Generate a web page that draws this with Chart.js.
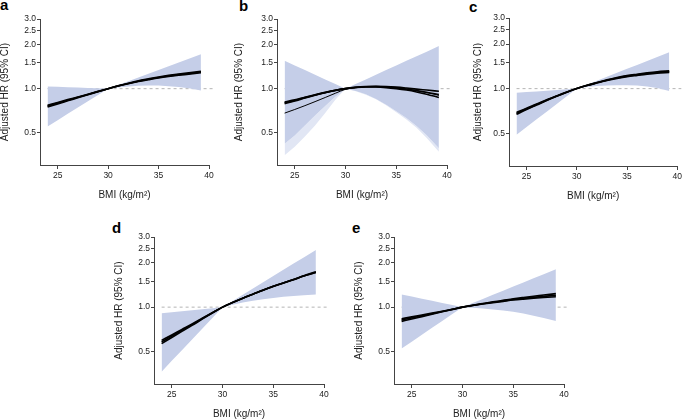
<!DOCTYPE html>
<html><head><meta charset="utf-8">
<script src="https://cdn.jsdelivr.net/npm/chart.js@4"></script>
<style>
body{margin:0;width:684px;height:420px;background:#fff;position:relative;overflow:hidden;font-family:"Liberation Sans",Arial,Helvetica,sans-serif}
canvas{position:absolute}
.lab{position:absolute;font-weight:bold;font-size:15px;line-height:15px;color:#000;font-family:"Liberation Sans",Arial,Helvetica,sans-serif}
</style></head><body>
<script>
// ---- data ----
const bmi = [24,25,26,27,28,29,30,31,32,33,34,35,36,37,38,39.2];
const xTicks = [25,30,35,40];
const yTicks = [0.5,1.0,1.5,2.0,2.5,3.0];
const refFrom = 24, refTo = 40.4, refHR = 1.0;

const aUpper = [1.035,1.029,1.023,1.017,1.011,1.006,1.0,1.061,1.125,1.193,1.265,1.342,1.423,1.509,1.60,1.72];
const aLower = [0.551,0.608,0.672,0.742,0.820,0.906,1.0,1.02,1.035,1.045,1.05,1.05,1.04,1.025,1.005,0.97];
const aLine1 = [0.76,0.796,0.833,0.872,0.913,0.955,1.0,1.045,1.086,1.125,1.159,1.193,1.222,1.247,1.27,1.30];
const aLine2 = [0.748,0.786,0.825,0.866,0.909,0.953,1.0,1.047,1.09,1.131,1.167,1.203,1.233,1.26,1.284,1.315];
const aLine3 = [0.77,0.805,0.841,0.878,0.917,0.958,1.0,1.043,1.082,1.119,1.152,1.184,1.211,1.235,1.257,1.285];

const bUpper = [1.55,1.44,1.34,1.245,1.157,1.076,1.0,1.076,1.157,1.245,1.34,1.44,1.55,1.67,1.79,1.96];
const bLower = [0.42,0.478,0.56,0.655,0.76,0.88,1.0,0.965,0.915,0.85,0.775,0.70,0.63,0.555,0.48,0.39];
const bFringe = [0.35,0.40,0.47,0.56,0.68,0.84,1.0,0.96,0.91,0.845,0.77,0.69,0.615,0.54,0.46,0.37];
const bLine1 = [0.80,0.83,0.868,0.905,0.94,0.973,1.0,1.02,1.031,1.033,1.027,1.013,0.995,0.972,0.946,0.91];
const bLine2 = [0.79,0.823,0.862,0.90,0.937,0.971,1.0,1.022,1.034,1.038,1.035,1.025,1.01,0.993,0.978,0.96];
const bLine3 = [0.81,0.838,0.873,0.908,0.943,0.975,1.0,1.018,1.027,1.026,1.017,1.0,0.978,0.95,0.917,0.87];
const bLine4 = [0.68,0.72,0.765,0.815,0.87,0.93,0.99,1.015,1.03,1.032,1.025,1.01,0.99,0.965,0.94,0.90];

const cUpper = [0.937,0.947,0.957,0.968,0.979,0.989,1.0,1.063,1.131,1.203,1.279,1.36,1.446,1.537,1.635,1.76];
const cLower = [0.488,0.55,0.62,0.698,0.787,0.887,1.0,1.025,1.04,1.05,1.055,1.055,1.05,1.035,1.01,0.965];
const cLine1 = [0.68,0.73,0.78,0.835,0.89,0.945,1.0,1.05,1.095,1.14,1.18,1.215,1.24,1.265,1.285,1.30];
const cLine2 = [0.67,0.722,0.774,0.83,0.887,0.944,1.0,1.052,1.099,1.146,1.188,1.225,1.252,1.278,1.30,1.318];
const cLine3 = [0.69,0.738,0.786,0.84,0.893,0.947,1.0,1.048,1.091,1.134,1.172,1.205,1.229,1.252,1.271,1.285];

const dUpper = [0.909,0.924,0.938,0.953,0.969,0.984,1.0,1.102,1.215,1.339,1.476,1.627,1.794,1.977,2.18,2.45];
const dLower = [0.364,0.431,0.509,0.603,0.714,0.845,1.0,1.04,1.075,1.105,1.13,1.155,1.175,1.19,1.205,1.22];
const dLine1 = [0.58,0.635,0.695,0.76,0.835,0.915,1.0,1.075,1.15,1.225,1.305,1.385,1.46,1.54,1.63,1.73];
const dLine2 = [0.594,0.647,0.705,0.768,0.84,0.918,1.0,1.076,1.151,1.226,1.306,1.386,1.462,1.543,1.634,1.74];
const dLine3 = [0.565,0.622,0.684,0.751,0.828,0.911,1.0,1.074,1.149,1.224,1.304,1.384,1.458,1.537,1.626,1.72];

const eUpper = [1.22,1.18,1.142,1.105,1.069,1.034,1.0,1.067,1.138,1.214,1.295,1.381,1.473,1.571,1.676,1.81];
const eLower = [0.523,0.582,0.649,0.723,0.806,0.898,1.0,0.99,0.98,0.965,0.95,0.93,0.905,0.875,0.845,0.805];
const eLine1 = [0.817,0.845,0.873,0.902,0.933,0.966,1.0,1.028,1.054,1.079,1.103,1.128,1.148,1.166,1.183,1.205];
const eLine2 = [0.80,0.831,0.862,0.895,0.929,0.964,1.0,1.03,1.058,1.086,1.112,1.139,1.163,1.186,1.208,1.236];
const eLine3 = [0.834,0.859,0.884,0.91,0.938,0.968,1.0,1.026,1.05,1.073,1.095,1.117,1.134,1.149,1.162,1.176];

// ---- layout / style ----
const FAMILY = '"Liberation Sans", Arial, Helvetica, sans-serif';
const BAND = '#C5CEE8', FRINGE = '#E1E6F4', AXIS = '#444', TXT = '#222';
const panels = [
  {label:'a', upper:aUpper, lower:aLower, fringe:null, lines:[aLine1,aLine2,aLine3], thin:null, L:40, R:209, T:19, B:165, tc:5, lx:0, ly:-3},
  {label:'b', upper:bUpper, lower:bLower, fringe:bFringe, lines:[bLine1,bLine2,bLine3], thin:bLine4, L:277, R:447, T:19, B:165, tc:239, lx:239, ly:-2},
  {label:'c', upper:cUpper, lower:cLower, fringe:null, lines:[cLine1,cLine2,cLine3], thin:null, L:509, R:679, T:18, B:166, tc:478, lx:469, ly:-1},
  {label:'d', upper:dUpper, lower:dLower, fringe:null, lines:[dLine1,dLine2,dLine3], thin:null, L:154, R:324, T:237, B:384, tc:119, lx:112, ly:220},
  {label:'e', upper:eUpper, lower:eLower, fringe:null, lines:[eLine1,eLine2,eLine3], thin:null, L:394, R:564, T:237, B:384, tc:359, lx:352, ly:220}
];

const pts = arr => bmi.map((x,i)=>({x:x, y:arr[i]}));

panels.forEach(p=>{
  const lab = document.createElement('div');
  lab.className='lab'; lab.textContent=p.label;
  lab.style.left=p.lx+'px'; lab.style.top=p.ly+'px';
  document.body.appendChild(lab);

  const cl = Math.round(p.tc - 6);
  const ct = p.T - 10;
  const cr = Math.min(p.R + 8, 684);
  const cb = p.B + 36;
  const cv = document.createElement('canvas');
  cv.width = cr - cl; cv.height = cb - ct;
  cv.style.left = cl+'px'; cv.style.top = ct+'px';
  cv.style.width = (cr-cl)+'px'; cv.style.height=(cb-ct)+'px';
  document.body.appendChild(cv);
  const Wl = p.L - cl;

  const ds = [];
  p.lines.forEach(l=>ds.push({data:pts(l), borderColor:'#000', borderWidth:1.6, pointRadius:0, fill:false, cubicInterpolationMode:'monotone', order:0}));
  if (p.thin) ds.push({data:pts(p.thin), borderColor:'#000', borderWidth:1, pointRadius:0, fill:false, cubicInterpolationMode:'monotone', order:0});
  ds.push({data:[{x:refFrom,y:refHR},{x:refTo,y:refHR}], borderColor:'#b5b5b5', borderWidth:1, borderDash:[3,3], pointRadius:0, fill:false, clip:false, order:5});
  const ui = ds.length;
  ds.push({data:pts(p.upper), borderWidth:0, borderColor:'rgba(0,0,0,0)', backgroundColor:BAND, pointRadius:0, fill:'+1', order:2});
  ds.push({data:pts(p.lower), borderWidth:0, borderColor:'rgba(0,0,0,0)', pointRadius:0, fill:false, order:2});
  if (p.fringe) ds.push({data:pts(p.fringe), borderWidth:0, borderColor:'rgba(0,0,0,0)', backgroundColor:FRINGE, pointRadius:0, fill:'-1', order:3});

  new Chart(cv, {
    type:'line',
    data:{datasets:ds},
    options:{
      responsive:false, animation:false, devicePixelRatio:1,
      layout:{padding:{left:0, top:10, right:cr-p.R, bottom:0}},
      plugins:{legend:{display:false}, tooltip:{enabled:false}},
      scales:{
        x:{type:'linear', min:23.25, max:40,
          afterBuildTicks:s=>{s.ticks = xTicks.map(v=>({value:v}));},
          afterFit:s=>{s.height = 36;},
          grid:{drawOnChartArea:false, drawTicks:true, tickLength:4, color:AXIS, lineWidth:1},
          border:{display:true, color:AXIS, width:1},
          ticks:{font:{size:8.5, family:FAMILY}, color:TXT, padding:2, maxRotation:0, autoSkip:false, callback:v=>String(v)},
          title:{display:true, text:'BMI (kg/m²)', font:{size:10, family:FAMILY}, color:TXT, padding:0}
        },
        y:{type:'logarithmic', min:0.32, max:3.0,
          afterBuildTicks:s=>{s.ticks = yTicks.map(v=>({value:v}));},
          afterFit:s=>{s.width = Wl;},
          grid:{drawOnChartArea:false, drawTicks:true, tickLength:3, color:AXIS, lineWidth:1},
          border:{display:true, color:AXIS, width:1},
          ticks:{font:{size:8.5, family:FAMILY}, color:TXT, padding:1, autoSkip:false, callback:v=>Number(v).toFixed(1)},
          title:{display:true, text:'Adjusted HR (95% CI)', font:{size:10, family:FAMILY}, color:TXT, padding:0}
        }
      }
    }
  });
});
</script>
</body></html>
